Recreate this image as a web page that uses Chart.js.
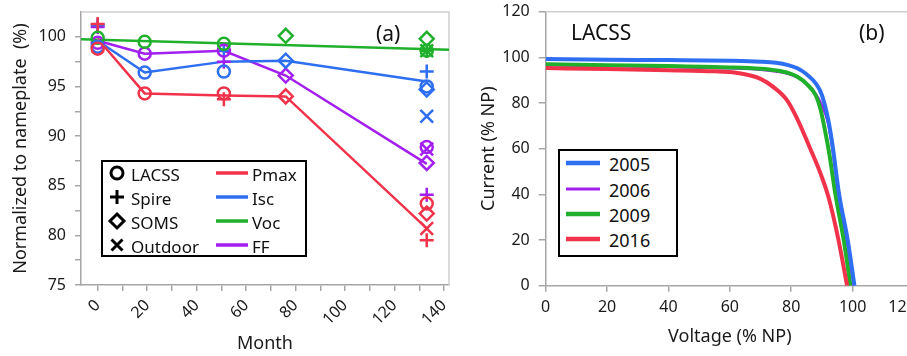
<!DOCTYPE html>
<html>
<head>
<meta charset="utf-8">
<script src="https://cdn.jsdelivr.net/npm/chart.js@4.4.1/dist/chart.umd.min.js"></script>
<style>
html, body { margin: 0; padding: 0; overflow: hidden; background: #fff; }
body { width: 907px; height: 356px; position: relative; font-family: "Noto Sans", sans-serif; color: #111; }
#left { position: absolute; left: 0; top: 0; }
#right { position: absolute; left: 460px; top: 0; }
.note { position: absolute; font-size: 21px; line-height: 1; white-space: nowrap; }
svg.legend { position: absolute; overflow: visible; font-family: "Noto Sans", sans-serif; }
</style>
</head>
<body>
<canvas id="left" width="460" height="356"></canvas>
<canvas id="right" width="474" height="356"></canvas>

<div class="note" style="left:376px; top:23px;">(a)</div>
<div class="note" style="left:571px; top:22px;">LACSS</div>
<div class="note" style="left:859px; top:22px;">(b)</div>

<svg class="legend" style="left:101px; top:160px;" width="206" height="97">
  <rect x="1" y="1" width="204" height="95" fill="#fff" stroke="#000" stroke-width="2"/>
  <g stroke="#000" stroke-width="3" fill="none">
    <circle cx="16" cy="13" r="6"/>
    <path d="M16 30 V44 M9 37 H23"/>
    <path d="M16 54 L23 61 L16 68 L9 61 Z"/>
    <path d="M10.5 79.5 L21.5 90.5 M21.5 79.5 L10.5 90.5"/>
  </g>
  <g font-size="17" fill="#111" dominant-baseline="central">
    <text x="30" y="14">LACSS</text>
    <text x="30" y="38">Spire</text>
    <text x="30" y="62">SOMS</text>
    <text x="30" y="86">Outdoor</text>
    <text x="151" y="14">Pmax</text>
    <text x="151" y="38">Isc</text>
    <text x="151" y="62">Voc</text>
    <text x="151" y="86">FF</text>
  </g>
  <g stroke-width="3.5">
    <line x1="115" y1="13" x2="147" y2="13" stroke="#f0334b"/>
    <line x1="115" y1="37" x2="147" y2="37" stroke="#2e6ef0"/>
    <line x1="115" y1="61" x2="147" y2="61" stroke="#20b02c"/>
    <line x1="115" y1="85" x2="147" y2="85" stroke="#a21ff0"/>
  </g>
</svg>

<svg class="legend" style="left:558px; top:149px;" width="120" height="108">
  <rect x="1" y="1" width="118" height="106" fill="#fff" stroke="#000" stroke-width="2"/>
  <line x1="8" y1="14" x2="42" y2="14" stroke="#2e6ef0" stroke-width="4.5"/>
  <line x1="8" y1="40" x2="42" y2="40" stroke="#a21ff0" stroke-width="3"/>
  <line x1="8" y1="65" x2="42" y2="65" stroke="#20b02c" stroke-width="4.5"/>
  <line x1="8" y1="90" x2="42" y2="90" stroke="#f0334b" stroke-width="4.5"/>
  <g font-size="18" fill="#111" dominant-baseline="central">
    <text x="51" y="15">2005</text>
    <text x="51" y="41">2006</text>
    <text x="51" y="66">2009</text>
    <text x="51" y="91">2016</text>
  </g>
</svg>

<script>
// tick marks (labels only on every other one)
const monthTicks = [0, 10, 20, 30, 40, 50, 60, 70, 80, 90, 100, 110, 120, 130, 140];
const normTicks = [75, 77.5, 80, 82.5, 85, 87.5, 90, 92.5, 95, 97.5, 100];

// panel (a): trend lines
const trendMonths = [0, 19, 51, 76, 133];
const pmaxLine = [99.8, 94.3, 94.1, 94.0, 80.7];
const iscLine = [99.6, 96.4, 97.5, 97.6, 95.5];
const ffLine = [99.6, 98.3, 98.6, 96.1, 87.2];
const vocMonths = [-7, 142];
const vocLine = [99.75, 98.7];

// panel (a): measured points per instrument
const lacssMonths = [0, 19, 51, 133];
const lacssPmax = [98.8, 94.3, 94.3, 83.2];
const lacssIsc = [99.0, 96.4, 96.5, 95.0];
const lacssVoc = [99.9, 99.5, 99.3, 98.6];
const lacssFF = [99.4, 98.3, 98.6, 88.9];

const spireMonths = [0, 51, 133];
const spirePmax = [101.3, 93.7, 79.5];
const spireIsc = [101.2, 98.6, 96.5];
const spireVoc = [null, null, 98.6];
const spireFF = [101.0, 97.5, 84.1];

const somsMonths = [76, 133];
const somsPmax = [94.0, 82.2];
const somsIsc = [97.6, 94.7];
const somsVoc = [100.1, 99.8];
const somsFF = [96.1, 87.3];

const outdoorMonths = [133];
const outdoorPmax = [80.7];
const outdoorIsc = [92.0];
const outdoorVoc = [98.6];
const outdoorFF = [88.7];

// panel (b): LACSS I-V curves
const voltage2005 = [0, 20, 40, 60, 70, 75, 79, 82, 85, 88, 90, 92, 93.4, 95.6, 98.4, 100.6];
const current2005 = [99.3, 99.0, 98.8, 98.5, 98.1, 97.6, 96.6, 95.2, 92.6, 88.6, 83.5, 73, 62, 40, 20, 0];
const voltage2006 = [0, 20, 40, 60, 70, 75, 79, 82, 85, 88, 90, 92, 93.4, 95.4, 98, 100.3];
const current2006 = [96.5, 96.2, 95.8, 95.2, 94.6, 93.8, 92.8, 91.2, 88.5, 84, 79, 71, 60, 40, 20, 0];
const voltage2009 = [0, 20, 40, 60, 70, 75, 79, 82, 85, 88, 89.5, 91, 92.5, 94.4, 97.1, 99.3];
const current2009 = [97.0, 96.6, 96.2, 95.6, 95.0, 94.3, 93.2, 91.5, 88.4, 83.3, 77.5, 68, 57, 40, 20, 0];
const voltage2016 = [0, 20, 40, 55, 62, 66, 70, 74, 78.6, 82, 86.2, 89.3, 92.2, 95.4, 98.2];
const current2016 = [95.3, 94.9, 94.4, 93.9, 93.3, 92.3, 90.6, 87.2, 81.3, 73, 60, 50, 38.5, 20, 0];

const RED = '#f0334b', BLUE = '#2e6ef0', GREEN = '#20b02c', PURPLE = '#a21ff0';
const AXIS = '#a6a6a6';
const FONT = '"Noto Sans", sans-serif';

function pts(xs, ys) {
    return xs.map((x, i) => ({ x: x, y: ys[i] })).filter(p => p.y !== null);
}

function trend(xs, ys, color) {
    return { data: pts(xs, ys), borderColor: color, borderWidth: 2.5, pointRadius: 0, showLine: true, order: 5 };
}

function marks(xs, ys, color, style, radius) {
    return {
        data: pts(xs, ys), borderColor: color, backgroundColor: 'rgba(0,0,0,0)',
        pointStyle: style, pointRadius: radius, pointBorderWidth: 2.5, showLine: false, order: 1
    };
}

// no extra room for end labels: the plot area is set by layout padding only
function noPad(s) {
    s.paddingTop = 0; s.paddingBottom = 0; s.paddingLeft = 0; s.paddingRight = 0;
}

// grey frame on top and right of the plot area
const frame = {
    id: 'frame',
    beforeDatasetsDraw(chart) {
        const { ctx, chartArea: a } = chart;
        ctx.save();
        ctx.strokeStyle = '#cfcfcf';
        ctx.lineWidth = 1.5;
        ctx.beginPath();
        ctx.moveTo(a.left, a.top);
        ctx.lineTo(a.right, a.top);
        ctx.lineTo(a.right, a.bottom);
        ctx.stroke();
        ctx.restore();
    }
};

Chart.defaults.font.family = FONT;
Chart.defaults.color = '#1a1a1a';

new Chart(document.getElementById('left'), {
    type: 'scatter',
    data: {
        datasets: [
            trend(trendMonths, pmaxLine, RED),
            trend(trendMonths, iscLine, BLUE),
            trend(vocMonths, vocLine, GREEN),
            trend(trendMonths, ffLine, PURPLE),
            marks(lacssMonths, lacssPmax, RED, 'circle', 6),
            marks(lacssMonths, lacssIsc, BLUE, 'circle', 6),
            marks(lacssMonths, lacssVoc, GREEN, 'circle', 6),
            marks(lacssMonths, lacssFF, PURPLE, 'circle', 6),
            marks(spireMonths, spirePmax, RED, 'cross', 7),
            marks(spireMonths, spireIsc, BLUE, 'cross', 7),
            marks(spireMonths, spireVoc, GREEN, 'cross', 7),
            marks(spireMonths, spireFF, PURPLE, 'cross', 7),
            marks(somsMonths, somsPmax, RED, 'rectRot', 7),
            marks(somsMonths, somsIsc, BLUE, 'rectRot', 7),
            marks(somsMonths, somsVoc, GREEN, 'rectRot', 7),
            marks(somsMonths, somsFF, PURPLE, 'rectRot', 7),
            marks(outdoorMonths, outdoorPmax, RED, 'crossRot', 9),
            marks(outdoorMonths, outdoorIsc, BLUE, 'crossRot', 9),
            marks(outdoorMonths, outdoorVoc, GREEN, 'crossRot', 9),
            marks(outdoorMonths, outdoorFF, PURPLE, 'crossRot', 9)
        ]
    },
    options: {
        responsive: false,
        animation: false,
        layout: { autoPadding: false, padding: { top: 12, right: 11, left: 0, bottom: 0 } },
        plugins: { legend: { display: false }, tooltip: { enabled: false } },
        scales: {
            x: {
                type: 'linear', min: -6.75, max: 142,
                ticks: { autoSkip: false, font: { size: 16 }, minRotation: 45, maxRotation: 45, padding: 5,
                    callback: v => (v % 20 === 0 ? v : '') },
                afterBuildTicks: s => { s.ticks = monthTicks.map(v => ({ value: v })); },
                afterFit: s => { s.height = 71; noPad(s); },
                grid: { drawOnChartArea: false, tickLength: 6, color: AXIS, lineWidth: 1.5 },
                border: { color: AXIS, width: 1.5 },
                title: { display: true, text: 'Month', font: { size: 18 }, padding: { top: 0, bottom: 1 } }
            },
            y: {
                min: 75, max: 102.5,
                ticks: { autoSkip: false, font: { size: 16 }, padding: 9,
                    callback: v => (v % 5 === 0 ? v : '') },
                afterBuildTicks: s => { s.ticks = normTicks.map(v => ({ value: v })); },
                afterFit: s => { s.width = 81; noPad(s); },
                grid: { drawOnChartArea: false, tickLength: 6, color: AXIS, lineWidth: 1.5 },
                border: { color: AXIS, width: 1.5 },
                title: { display: true, text: 'Normalized to nameplate  (%)', font: { size: 18 }, padding: { top: 10, bottom: 0 } }
            }
        }
    },
    plugins: [frame]
});

function curve(xs, ys, color, width, order) {
    return {
        data: pts(xs, ys), borderColor: color, borderWidth: width, pointRadius: 0,
        showLine: true, cubicInterpolationMode: 'monotone', order: order
    };
}

new Chart(document.getElementById('right'), {
    type: 'scatter',
    data: {
        datasets: [
            curve(voltage2005, current2005, BLUE, 4, 1),
            curve(voltage2006, current2006, PURPLE, 2.5, 3),
            curve(voltage2009, current2009, GREEN, 4, 2),
            curve(voltage2016, current2016, RED, 4, 1)
        ]
    },
    options: {
        responsive: false,
        animation: false,
        layout: { autoPadding: false, padding: { top: 11.7, right: 20, left: 0, bottom: 0 } },
        plugins: { legend: { display: false }, tooltip: { enabled: false } },
        scales: {
            x: {
                type: 'linear', min: 0, max: 120,
                // the last label sits a little inside its tick, as in the original
                ticks: { stepSize: 20, autoSkip: false, font: { size: 16 }, maxRotation: 0, padding: 6,
                    callback: v => (v === 120 ? '120\u2002\u2002\u2002' : v) },
                afterFit: s => { s.height = 70.3; noPad(s); },
                grid: { drawOnChartArea: false, tickLength: 6, color: AXIS, lineWidth: 1.5 },
                border: { color: AXIS, width: 1.5 },
                title: { display: true, text: 'Voltage (% NP)', font: { size: 18 }, padding: { top: 0, bottom: 8 } }
            },
            y: {
                min: 0, max: 120,
                ticks: { stepSize: 20, autoSkip: false, font: { size: 16 }, padding: 9 },
                afterFit: s => { s.width = 85.7; noPad(s); },
                grid: { drawOnChartArea: false, tickLength: 7, color: AXIS, lineWidth: 1.5 },
                border: { color: AXIS, width: 1.5 },
                title: { display: true, text: 'Current (% NP)', font: { size: 18 }, padding: { top: 18, bottom: 0 } }
            }
        }
    },
    plugins: [frame]
});
</script>
</body>
</html>
